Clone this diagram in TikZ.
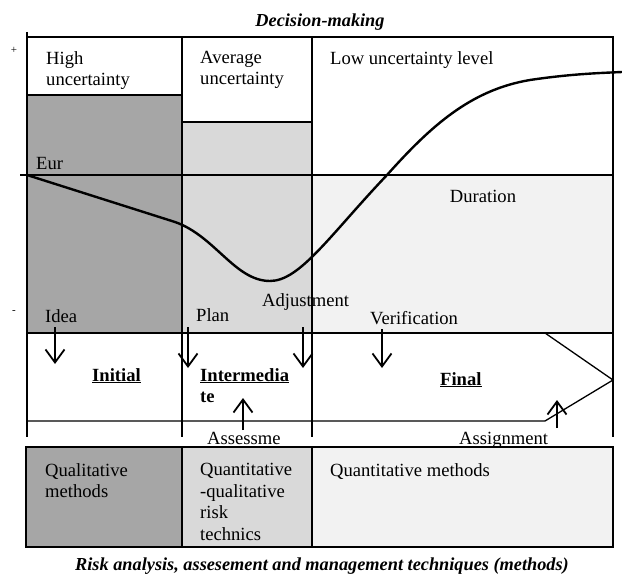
\documentclass[tikz,border=0pt]{standalone}
\usepackage{fontspec}
\setmainfont{Liberation Serif}
\usetikzlibrary{arrows.meta}
\definecolor{cDark}{HTML}{A6A6A6}
\definecolor{cMid}{HTML}{D9D9D9}
\definecolor{cLight}{HTML}{F2F2F2}
\begin{document}
\begin{tikzpicture}[x=1pt,y=-1pt,
  frame/.style={line width=1.3pt},
  axisline/.style={line width=2.4pt},
  lbl/.style={anchor=north west,inner sep=0pt,font=\fontsize{18.6}{21.5}\selectfont,align=left},
  phase/.style={lbl,font=\fontsize{18.6}{21.5}\selectfont\bfseries},
  ttl/.style={inner sep=0pt,font=\fontsize{18.3}{20}\selectfont\bfseries\itshape},
  tick/.style={inner sep=0pt,font=\fontsize{11}{12}\selectfont},
  varr/.style={line width=1.8pt,-{Straight Barb[length=13pt,width=19pt,line width=1.8pt]}},
]
\useasboundingbox (0,0) rectangle (622,575);
% fills
\fill[cDark] (27,95) rectangle (182,333);
\fill[cMid] (182,122) rectangle (312,333);
\fill[cLight] (312,175) rectangle (613,333);
% frame lines
\draw[frame] (27,95) -- (182,95);
\draw[frame] (182,122) -- (312,122);
\draw[frame] (27,37) -- (613,37) -- (613,437);
\draw[frame] (182,37) -- (182,437);
\draw[frame] (312,37) -- (312,437);
\draw[frame] (555,175) -- (613,175);
\draw[axisline] (20,175) -- (555,175);
\draw[axisline] (27,32) -- (27,437);
\draw[line width=2.2pt] (27,333) -- (613,333);
\draw[frame] (27,421) -- (545,421) -- (613,380) -- (545,333);
% curve
\draw[line width=2.4pt] (27,175) -- (175,222) .. controls (215,236) and (235,281) .. (270,281)
  .. controls (300,281) and (330,235) .. (387,175)
  .. controls (430,127) and (470,90) .. (530,80)
  .. controls (570,74) and (600,73) .. (622,72);
% bottom boxes
\draw[frame,fill=cDark] (26,447) rectangle (182,547);
\draw[frame,fill=cMid] (182,447) rectangle (312,547);
\draw[frame,fill=cLight] (312,447) rectangle (613,547);
% texts
\node[ttl] (title) at (320,22) {Decision-making};
\node[tick] (plus) at (14,50) {+};
\node[tick] (minus) at (14,312) {-};
\node[lbl] (high) at (46,51) {High\\uncertainty};
\node[lbl] (avg) at (200,51) {Average\\uncertainty};
\node[lbl] (low) at (330,51) {Low uncertainty level};
\node[lbl] (eur) at (36,157) {Eur};
\node[lbl,anchor=north] (dur) at (483,190) {Duration};
\node[lbl] (adj) at (262,293) {Adjustment};
\node[lbl] (idea) at (45,309) {Idea};
\node[lbl] (plan) at (196,308) {Plan};
\node[lbl] (ver) at (370,311) {Verification};
\node[phase] (ini) at (92,368) {\underline{Initial}};
\node[phase] (inter) at (200,368) {\underline{Intermedia}\\te};
\node[phase] (fin) at (440,372) {\underline{Final}};
\node[lbl] (ass) at (207,432) {Assessme};
\node[lbl] (asg) at (459,432) {Assignment};
\node[lbl] (qual) at (45,463) {Qualitative\\methods};
\node[lbl] (qq) at (200,463) {Quantitative\\-qualitative\\risk\\technics};
\node[lbl] (qm) at (330,463) {Quantitative methods};
\node[ttl] (cap) at (322,566) {Risk analysis, assesement and management techniques (methods)};
% arrows
\coordinate (a1s) at (55,327); \coordinate (a1e) at (55,364);
\coordinate (a2s) at (188,327); \coordinate (a2e) at (188,368);
\coordinate (a3s) at (303,327); \coordinate (a3e) at (303,368);
\coordinate (a4s) at (382,329); \coordinate (a4e) at (382,368);
\coordinate (a5s) at (243,430); \coordinate (a5e) at (243,398);
\coordinate (a6s) at (557,428); \coordinate (a6e) at (557,400);
\draw[varr] (a1s) -- (a1e);
\draw[varr] (a2s) -- (a2e);
\draw[varr] (a3s) -- (a3e);
\draw[varr] (a4s) -- (a4e);
\draw[varr] (a5s) -- (a5e);
\draw[varr] (a6s) -- (a6e);
\end{tikzpicture}
\end{document}
